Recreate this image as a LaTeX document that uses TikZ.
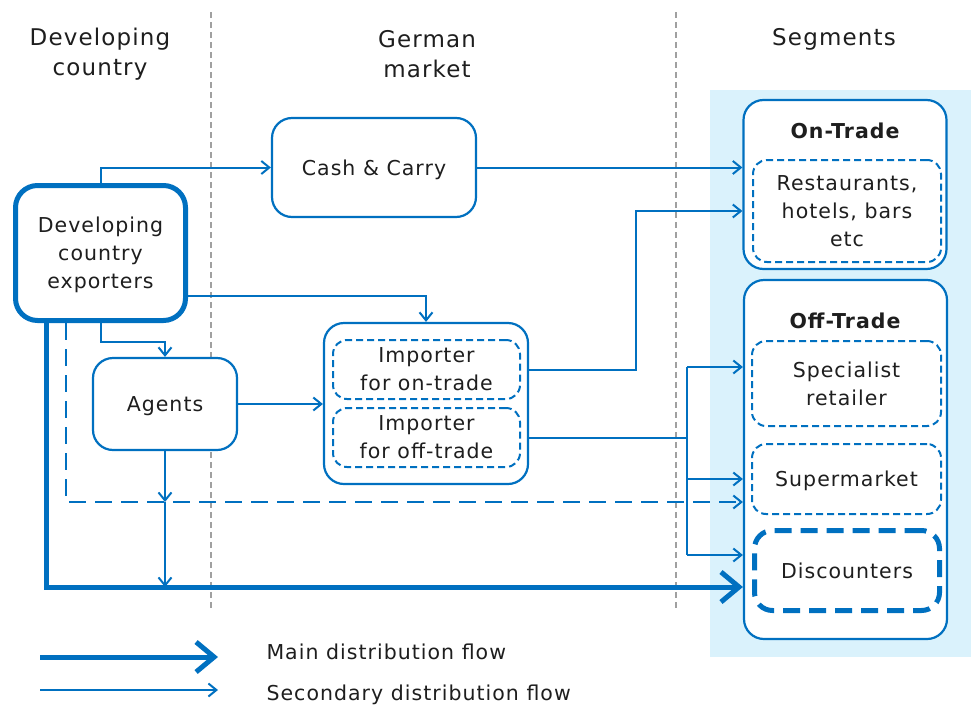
\documentclass[tikz,border=0pt]{standalone}
\usepackage{fontspec}
\setmainfont{DejaVu Sans}[LetterSpace=5]
\usetikzlibrary{arrows.meta}

\definecolor{flujo}{RGB}{0,112,192}
\definecolor{fondo}{RGB}{218,242,252}
\definecolor{sep}{RGB}{160,160,160}
\definecolor{texto}{RGB}{30,30,30}

\begin{document}
\begin{tikzpicture}[x=1pt, y=-1pt, text=texto,
		flecha/.style = {draw = flujo, line width = 2pt,
			-{Straight Barb[length=8pt, width=13pt]}},
		linea/.style = {draw = flujo, line width = 2pt},
		principal/.style = {draw = flujo, line width = 5pt,
			-{Straight Barb[length=18pt, width=30pt]}}]
\useasboundingbox (0,0) rectangle (971,704);

% Fondo
\fill[fondo] (710,90) rectangle (971,657);

% Separadores
\begin{scope}[draw = sep, line width = 1.5pt, dash pattern = on 6pt off 4pt]
	\draw (211,12) -- (211,610);
	\draw (676,12) -- (676,610);
\end{scope}

% Titulos
\begin{scope}[
		every node/.style = {align = center,
		font = \fontsize{23}{30}\selectfont}]
	\node (TDev) at (100,54) {Developing\\country};
	\node (TGer) at (427,54) {German\\market};
	\node[anchor = base] (TSeg) at (834,45) {Segments};
\end{scope}

% Cajas
\begin{scope}[
		every node/.style = {draw = flujo, fill = white, align = center,
		line width = 2.2pt, rounded corners = 20pt, inner sep = 0pt,
		text depth = -3pt, font = \fontsize{20.5}{28}\selectfont}]
	\node[line width = 5pt, rounded corners = 22pt,
		minimum width = 170pt, minimum height = 135pt]
		(Exp) at (100.5,253) {Developing\\country\\exporters};
	\node[minimum width = 204pt, minimum height = 99pt]
		(Cash) at (374,167.5) {Cash \& Carry};
	\node[minimum width = 144pt, minimum height = 92pt]
		(Ag) at (165,404) {Agents};
	\node[minimum width = 204pt, minimum height = 161pt]
		(Imp) at (426,403.5) {};
	\node[minimum width = 203pt, minimum height = 169pt]
		(On) at (845,184.5) {};
	\node[minimum width = 203pt, minimum height = 359pt]
		(Off) at (845.5,459.5) {};
\end{scope}

% Cajas internas
\begin{scope}[
		every node/.style = {draw = flujo, fill = white, align = center,
		line width = 2pt, dash pattern = on 7pt off 4pt,
		rounded corners = 14pt, inner sep = 0pt,
		text depth = -3pt, font = \fontsize{20.5}{28}\selectfont}]
	\node[minimum width = 187pt, minimum height = 59pt]
		(ImpOn) at (426.5,369.5) {Importer\\for on-trade};
	\node[minimum width = 187pt, minimum height = 59pt]
		(ImpOff) at (426.5,437.5) {Importer\\for off-trade};
	\node[minimum width = 188pt, minimum height = 102pt]
		(Rest) at (847,211) {Restaurants,\\hotels, bars\\etc};
	\node[minimum width = 189pt, minimum height = 85pt]
		(Spec) at (846.5,383.5) {Specialist\\retailer};
	\node[minimum width = 189pt, minimum height = 70pt]
		(Super) at (846.5,479) {Supermarket};
	\node[line width = 5pt, dash pattern = on 17pt off 9pt,
		rounded corners = 18pt,
		minimum width = 185pt, minimum height = 80pt]
		(Disc) at (847,570.5) {Discounters};
\end{scope}

% Segmentos
\begin{scope}[
		every node/.style = {anchor = base,
		font = \bfseries\fontsize{20.5}{28}\selectfont}]
	\node (TOn) at (845,138) {On-Trade};
	\node (TOff) at (845,328) {Off-Trade};
\end{scope}

% Puntos de paso
\coordinate (JOn) at (636,211);
\coordinate (BusA) at (687,367);
\coordinate (BusB) at (687,555);
\coordinate (Dash) at (66,502);
\coordinate (Main) at (46,587);

% Paths
\begin{scope}
	\draw[flecha] (Exp.north) |- (Cash.west);
	\draw[flecha] (Cash.east) -- (Cash.east -| On.west);
	\draw[flecha] ([yshift=-43pt]Exp.east) -| (Imp.north);
	\draw[flecha] (Exp.south) -- ++(0,19) -| (Ag.north);
	\draw[flecha] (Ag.east) -- (Ag.east -| Imp.west);
	\draw[flecha] (ImpOn.east -| Imp.east) -| (JOn) -- (JOn -| On.west);
	\draw[linea] (ImpOff.east -| Imp.east) -- (ImpOff.east -| BusA);
	\draw[linea] (BusA) -- (BusB);
	\draw[flecha] (BusA) -- (BusA -| Off.west);
	\draw[flecha] (BusA |- Super.west) -- (Super.west -| Off.west);
	\draw[flecha] (BusB) -- (BusB -| Off.west);
	\draw[flecha, dash pattern = on 17pt off 9pt]
		(Dash |- Exp.south) -- (Dash) -- (Dash -| Off.west);
	\draw[flecha] (Ag.south) -- (Ag.south |- Dash);
	\draw[flecha] (Ag.south |- Dash) -- (Ag.south |- Main);
	\draw[principal] (Main |- Exp.south) -- (Main) -- (Main -| Off.west);
\end{scope}

% Leyenda
\coordinate (LMa) at (40,657);
\coordinate (LMb) at (218,657);
\coordinate (LSa) at (40,690);
\coordinate (LSb) at (218,690);
\draw[principal] (LMa) -- (LMb);
\draw[flecha] (LSa) -- (LSb);
\begin{scope}[
		every node/.style = {anchor = base west,
		font = \fontsize{20.5}{28}\selectfont}]
	\node (LMain) at (263,659) {Main distribution flow};
	\node (LSec) at (263,700) {Secondary distribution flow};
\end{scope}
\end{tikzpicture}
\end{document}
